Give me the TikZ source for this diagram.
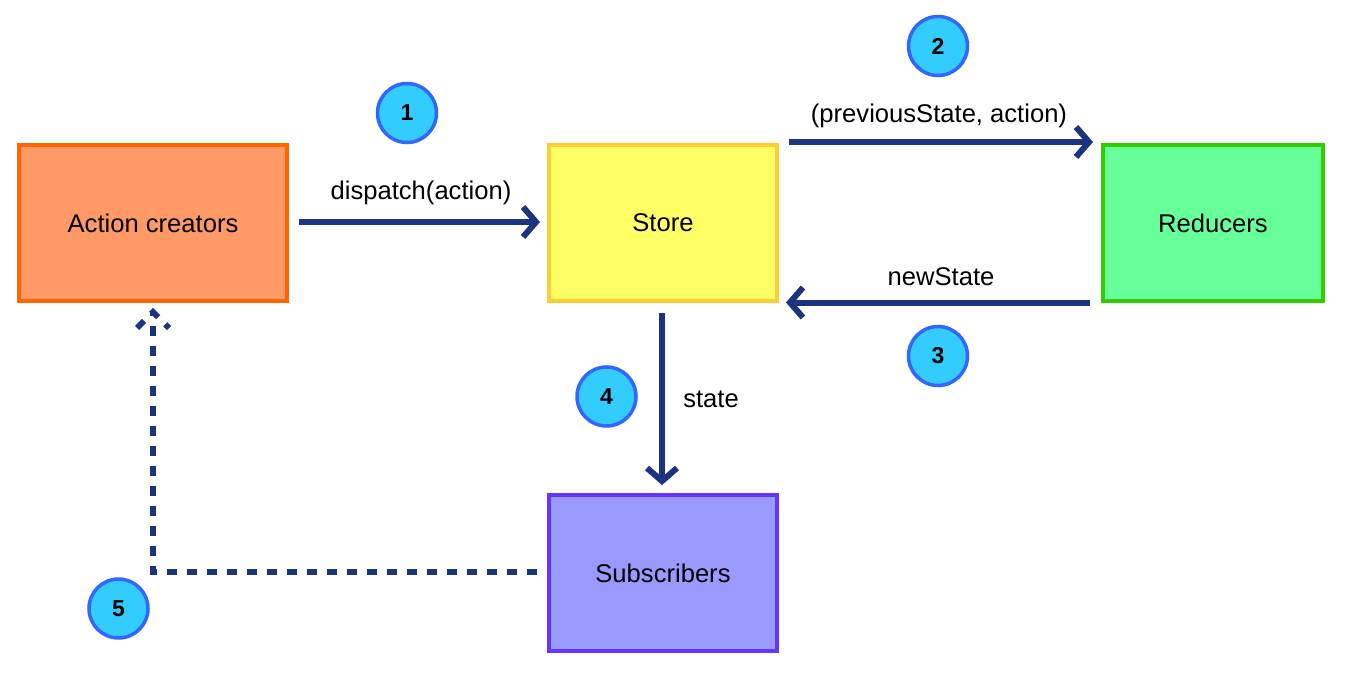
\documentclass[tikz,border=0pt]{standalone}
\usepackage{fontspec}
\setmainfont{Liberation Sans}
\usetikzlibrary{arrows.meta}
\definecolor{navy}{HTML}{1C3381}
\definecolor{acfill}{HTML}{FF9966}
\definecolor{acdraw}{HTML}{FF6600}
\definecolor{stfill}{HTML}{FFFF66}
\definecolor{stdraw}{HTML}{FFCC33}
\definecolor{rdfill}{HTML}{66FF99}
\definecolor{rddraw}{HTML}{33CC00}
\definecolor{sbfill}{HTML}{9999FF}
\definecolor{sbdraw}{HTML}{6633FF}
\definecolor{cfill}{HTML}{33CCFF}
\definecolor{cdraw}{HTML}{3366FF}
\tikzset{
  box/.style={rectangle, line width=4pt, minimum height=156pt, inner sep=0pt, outer sep=0pt, font=\fontsize{25.6}{30}\selectfont},
  num/.style={circle, draw=cdraw, fill=cfill, line width=3.5pt, minimum size=59pt, inner sep=0pt, font=\fontsize{23}{27}\selectfont\bfseries},
  lbl/.style={font=\fontsize{25.6}{30}\selectfont, inner sep=0pt},
  arr/.style={navy, line width=6pt, -{Straight Barb[length=13pt,width=30pt]}},
  dotted line/.style={navy, line width=6pt, dash pattern=on 10pt off 10pt}
}
\begin{document}
\begin{tikzpicture}[x=1pt,y=-1pt]
\useasboundingbox (0,0) rectangle (1345,682);
\node[box, draw=acdraw, fill=acfill, minimum width=268pt] (ac) at (153,223) {Action creators};
\node[box, draw=stdraw, fill=stfill, minimum width=228pt] (store) at (663,223) {Store};
\node[box, draw=rddraw, fill=rdfill, minimum width=220pt] (red) at (1213,223) {Reducers};
\node[box, draw=sbdraw, fill=sbfill, minimum width=228pt] (sub) at (663,573) {Subscribers};

\draw[arr] ([xshift=12pt,yshift=1pt]ac.east) -- ([xshift=-9pt,yshift=1pt]store.west);
\draw[arr] ([xshift=12pt,yshift=3pt]store.north east) -- ([xshift=-10pt,yshift=3pt]red.north west);
\draw[arr] ([xshift=-13pt,yshift=-1.5pt]red.south west) -- ([xshift=9pt,yshift=-1.5pt]store.south east);
\draw[arr] ([xshift=-1pt,yshift=-12pt]store.south) -- ([xshift=-1pt,yshift=10pt]sub.north);

\coordinate (corner) at (153,572);
\draw[dotted line] ([xshift=-12pt,yshift=1pt]sub.west) -- (corner) -- ([yshift=-12pt]ac.south);
\draw[dotted line, line join=miter] ([xshift=-16pt,yshift=-27pt]ac.south) -- ([yshift=-11pt]ac.south) -- ([xshift=16pt,yshift=-27pt]ac.south);

\node[lbl] (l1) at (421,193) {dispatch(action)};
\node[lbl] (l2) at (939,115.5) {(previousState, action)};
\node[lbl] (l3) at (941,277) {newState};
\node[lbl] (l4) at (711,399) {state};

\node[num] (n1) at (407,113) {1};
\node[num] (n2) at (938,46) {2};
\node[num] (n3) at (938,356) {3};
\node[num] (n4) at (606.5,396.5) {4};
\node[num] (n5) at (118.5,608.5) {5};
\end{tikzpicture}
\end{document}
